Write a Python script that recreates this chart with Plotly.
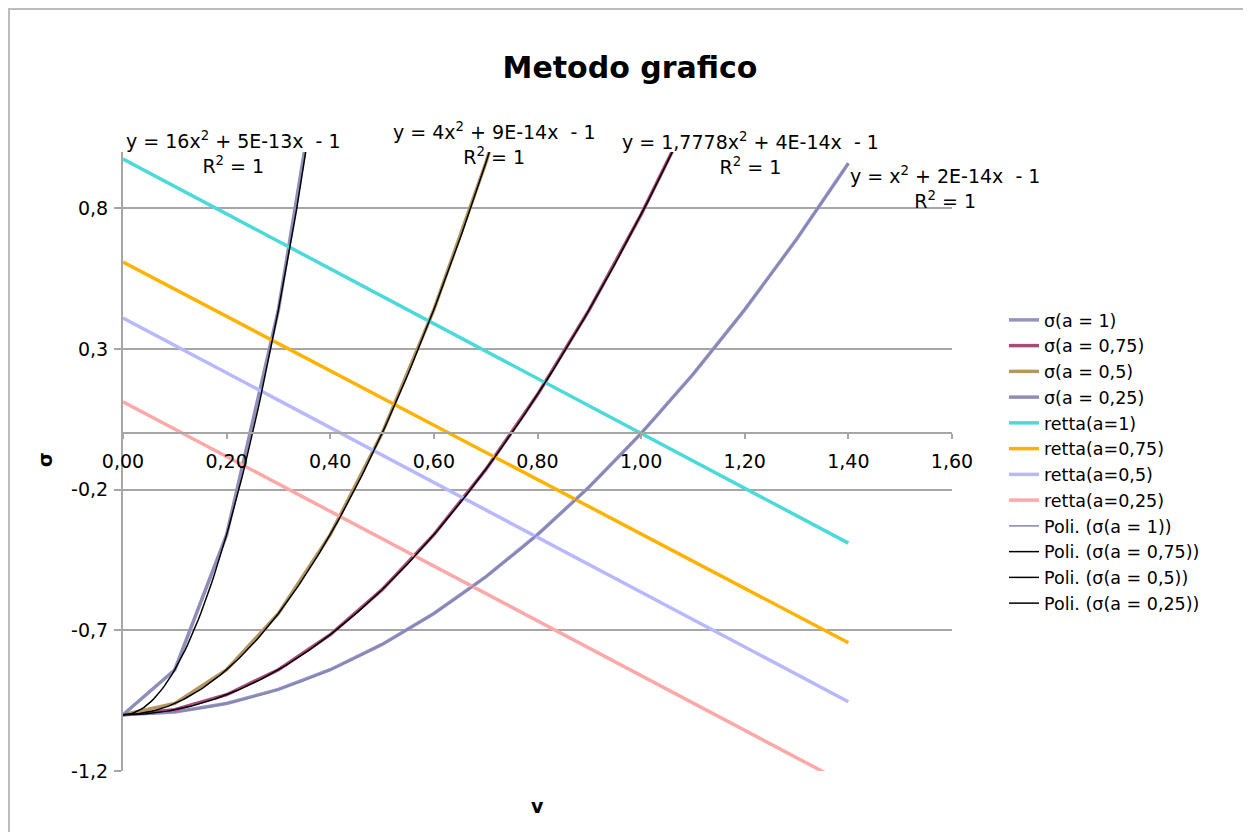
import numpy as np
import plotly.graph_objects as go

# ---- data ----
v = [0.0, 0.1, 0.2, 0.3, 0.4, 0.5, 0.6, 0.7, 0.8, 0.9, 1.0, 1.1, 1.2, 1.3, 1.4]
sigma_a1 = [-1, -0.99, -0.96, -0.91, -0.84, -0.75, -0.64, -0.51, -0.36, -0.19, 0, 0.21, 0.44, 0.69, 0.96]
sigma_a075 = [-1, -0.9822, -0.9289, -0.84, -0.7156, -0.5556, -0.36, -0.1289, 0.1378, 0.44,
              0.7778, 1.1511, 1.56, 2.0044, 2.4844]
sigma_a05 = [-1, -0.96, -0.84, -0.64, -0.36, 0, 0.44, 0.96, 1.56, 2.24, 3, 3.84, 4.76, 5.76, 6.84]
sigma_a025 = [-1, -0.84, -0.36, 0.44, 1.56, 3, 4.76, 6.84, 9.24, 11.96, 15, 18.36, 22.04, 26.04, 30.36]

v_retta = [0.0, 1.4]
retta_a1 = [0.975, -0.39]
retta_a075 = [0.609, -0.744]
retta_a05 = [0.41, -0.954]
retta_a025 = [0.112, -1.25]

sigma_names = ["σ(a = 1)", "σ(a = 0,75)", "σ(a = 0,5)", "σ(a = 0,25)"]
retta_names = ["retta(a=1)", "retta(a=0,75)", "retta(a=0,5)", "retta(a=0,25)"]
poli_names = ["Poli. (σ(a = 1))", "Poli. (σ(a = 0,75))", "Poli. (σ(a = 0,5))", "Poli. (σ(a = 0,25))"]

eq_texts = ["y = 16x<sup>2</sup> + 5E-13x  - 1<br>R<sup>2</sup> = 1",
            "y = 4x<sup>2</sup> + 9E-14x  - 1<br>R<sup>2</sup> = 1",
            "y = 1,7778x<sup>2</sup> + 4E-14x  - 1<br>R<sup>2</sup> = 1",
            "y = x<sup>2</sup> + 2E-14x  - 1<br>R<sup>2</sup> = 1"]

x_tickvals = [0.0, 0.2, 0.4, 0.6, 0.8, 1.0, 1.2, 1.4, 1.6]
x_ticktext = ["0,00", "0,20", "0,40", "0,60", "0,80", "1,00", "1,20", "1,40", "1,60"]
y_tickvals = [-1.2, -0.7, -0.2, 0.3, 0.8]
y_ticktext = ["-1,2", "-0,7", "-0,2", "0,3", "0,8"]

# ---- styles ----
sigma_colors = ["#9494C0", "#A84C7C", "#B49660", "#8E8EB8"]
retta_colors = ["#4CD9D9", "#FFB200", "#B8B8FF", "#FFA8A8"]
poli_colors = ["#8484B8", "#000000", "#000000", "#000000"]
FONT = "DejaVu Sans"
GRAY = "#A6A6A6"

# page body has an 8px margin: lay out the figure in a frame shifted by 8px
OFF = 8
W, H = 1251 - OFF, 832 - OFF
PL, PR, PT, PB = 123 - OFF, 952 - OFF, 152 - OFF, 771 - OFF
PW, PH = PR - PL, PB - PT


def px(xpix):
    return (xpix - OFF - PL) / PW


def py(ypix):
    return (PB - (ypix - OFF)) / PH


fig = go.Figure()
sig_series = [sigma_a1, sigma_a075, sigma_a05, sigma_a025]
for name, s, c in zip(sigma_names, sig_series, sigma_colors):
    fig.add_trace(go.Scatter(x=v, y=s, mode="lines", name=name,
                             line=dict(color=c, width=3.5)))
for name, s, c in zip(retta_names, [retta_a1, retta_a075, retta_a05, retta_a025], retta_colors):
    fig.add_trace(go.Scatter(x=v_retta, y=s, mode="lines", name=name,
                             line=dict(color=c, width=3.5)))
# polynomial (order 2) trendlines fitted to the sigma series
v_fine = np.linspace(min(v), max(v), 281)
for name, s, c in zip(poli_names, sig_series, poli_colors):
    coef = np.polyfit(v, s, 2)
    fig.add_trace(go.Scatter(x=v_fine, y=np.polyval(coef, v_fine), mode="lines", name=name,
                             line=dict(color=c, width=1.5)))

eq_pos = [(233, 153), (494, 143.5), (750, 153.5), (945, 187.5)]
for t, (ex, ey) in zip(eq_texts, eq_pos):
    fig.add_annotation(x=px(ex), y=py(ey), xref="paper", yref="paper", text=t, showarrow=False,
                       xanchor="center", yanchor="middle", align="center",
                       font=dict(family=FONT, size=19, color="#000"))

fig.add_annotation(x=px(537), y=py(806), xref="paper", yref="paper", text="<b>v</b>",
                   xanchor="center", yanchor="middle",
                   showarrow=False, font=dict(family=FONT, size=19, color="#000"))
fig.add_annotation(x=px(45), y=py(460), xref="paper", yref="paper", text="<b>σ</b>",
                   xanchor="center", yanchor="middle",
                   textangle=-90, showarrow=False, font=dict(family=FONT, size=19, color="#000"))

# chart border
fig.add_shape(type="rect", xref="paper", yref="paper",
              x0=px(9), x1=px(1249), y0=py(850), y1=py(9),
              line=dict(color="#BDBDBD", width=2), layer="below")

fig.update_layout(
    width=W, height=H,
    margin=dict(l=PL, r=W - PR, t=PT, b=H - PB, autoexpand=False),
    paper_bgcolor="white", plot_bgcolor="white",
    title=dict(text="<b>Metodo grafico</b>", x=(630 - OFF) / W, xref="container", xanchor="center",
               y=1 - (67 - OFF) / H, yref="container", yanchor="middle",
               font=dict(family=FONT, size=30, color="#000")),
    font=dict(family=FONT, size=19, color="#000"),
    showlegend=True,
    legend=dict(x=px(1004), y=py(302), xanchor="left", yanchor="top",
                bgcolor="rgba(0,0,0,0)",
                font=dict(family=FONT, size=17.5, color="#000"), tracegroupgap=0),
    xaxis=dict(range=[0, 1.6], tickvals=x_tickvals, ticktext=x_ticktext,
               anchor="free", position=1.2 / 2.2, showline=True, linecolor=GRAY, linewidth=2,
               ticks="outside", ticklen=5, tickwidth=2, tickcolor=GRAY, showgrid=False,
               zeroline=False, ticklabelstandoff=6,
               tickfont=dict(family=FONT, size=19, color="#000")),
    yaxis=dict(range=[-1.2, 1.0], tickvals=y_tickvals, ticktext=y_ticktext,
               showline=True, linecolor=GRAY, linewidth=2, ticks="outside", ticklen=7,
               tickwidth=2, tickcolor=GRAY, showgrid=True, gridcolor=GRAY, gridwidth=2,
               zeroline=False, ticklabelstandoff=2,
               tickfont=dict(family=FONT, size=19, color="#000")),
)

fig.write_html("out.html")
